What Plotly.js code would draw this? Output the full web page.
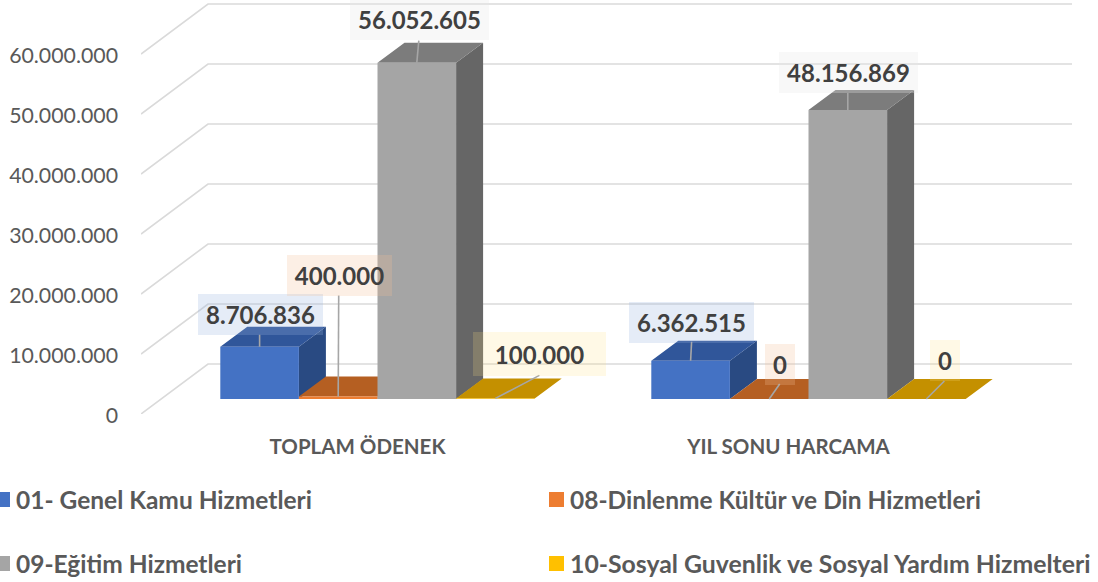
<!DOCTYPE html>
<html>
<head>
<meta charset="utf-8">
<script src="https://cdn.plot.ly/plotly-3.0.1.min.js"></script>
<style>html,body{margin:0;padding:0;background:#fff;overflow:hidden}#c{width:1098px;height:582px}</style>
</head>
<body>
<div id="c"></div>
<script>
// ---- data ----
var categories = ['TOPLAM ÖDENEK', 'YIL SONU HARCAMA'];
var seriesNames = ['01- Genel Kamu Hizmetleri', '08-Dinlenme Kültür ve Din Hizmetleri', '09-Eğitim Hizmetleri', '10-Sosyal Guvenlik ve Sosyal Yardım Hizmelteri'];
var genelKamu = [8706836, 6362515];
var dinlenme = [400000, 0];
var egitim = [56052605, 48156869];
var sosyal = [100000, 0];
var yTicks = [0, 10000000, 20000000, 30000000, 40000000, 50000000, 60000000];

// ---- style and geometry ----
var frontColors = ['#4472C4', '#ED7D31', '#A5A5A5', '#FFC000'];
var topColors = ['#30569A', '#B55F22', '#7C7C7C', '#C49000'];
var sideColors = ['#294A82', '#A35420', '#666666', '#B08200'];
var labelFills = ['rgba(150,180,225,0.25)', 'rgba(244,190,150,0.25)', 'rgba(232,232,232,0.3)', 'rgba(255,225,130,0.2)'];
var FONT = 'Lato, Carlito, Calibri, sans-serif';
var W = 1098, H = 582, L = 141, R = 1072, B = 414;
var X0 = 357.5, PX_PER_CAT = 431, UNITS_PER_PX = 60000000 / 360;
function xu(px) { return px / PX_PER_CAT; }
function yu(px) { return px * UNITS_PER_PX; }
var values = [genelKamu, dinlenme, egitim, sosyal];
var catPos = categories.map(function (c, i) { return i; });
var barShiftX = xu(20), floorShiftY = yu(15);
var barW = xu(78.6), barDX = xu(27), barDY = yu(20);
var wallDX = xu(67), wallDY = yu(50);
var xLeft = (L - X0) / PX_PER_CAT, xRight = (R - X0) / PX_PER_CAT;
var yTop = yu(B);

// label box: centre offset from the bar's top-centre, box size, leader start/end offsets
var labelDx = [[0.4, 0.4], [0.9, 10.9], [2.4, 0.4], [44.4, 18.4]];
var labelDy = [[-32, -38], [-121, -34.5], [-43, -37.5], [-44.5, -38.5]];
var labelW = [[125, 125], [105, 30], [139, 139], [133, 30]];
var labelH = [[41, 41], [41, 41], [41, 41], [44, 41]];
var leadEndDx = [[0, 1], [0.5, 10.5], [2, 0], [44, 18]];
var leadEndDy = [[-12, -19], [-101, -15], [-22, -17], [-23, -18]];

var traces = [];
// back wall and side gridlines
var gx = [], gy = [];
yTicks.forEach(function (t) {
  gx.push(xLeft, xLeft + wallDX, xRight, null);
  gy.push(t, t + wallDY, t + wallDY, null);
});
traces.push({ type: 'scatter', mode: 'lines', x: gx, y: gy, xaxis: 'x', yaxis: 'y', showlegend: false, hoverinfo: 'skip',
  line: { color: '#DADADA', width: 1.6 } });

// side and top faces (below the front faces)
function barLeft(si, ci) { return catPos[ci] + barShiftX + (si - 2) * barW; }
values.forEach(function (vals, si) {
  var sx = [], sy = [], tx = [], ty = [];
  vals.forEach(function (v, ci) {
    var x0 = barLeft(si, ci), x1 = x0 + barW, y = v + floorShiftY, b = floorShiftY;
    sx.push(x1, x1 + barDX, x1 + barDX, x1, x1, null);
    sy.push(b, b + barDY, y + barDY, y, b, null);
    tx.push(x0, x1, x1 + barDX, x0 + barDX, x0, null);
    ty.push(y, y, y + barDY, y + barDY, y, null);
  });
  traces.push({ type: 'scatter', mode: 'lines', x: sx, y: sy, fill: 'toself', fillcolor: sideColors[si], xaxis: 'x', yaxis: 'y',
    line: { width: 0, color: sideColors[si] }, showlegend: false, hoverinfo: 'skip' });
  traces.push({ type: 'scatter', mode: 'lines', x: tx, y: ty, fill: 'toself', fillcolor: topColors[si], xaxis: 'x', yaxis: 'y',
    line: { width: 0, color: topColors[si] }, showlegend: false, hoverinfo: 'skip' });
});

// front faces: real bars on an overlay axis whose zero sits on the chart floor
values.forEach(function (vals, si) {
  traces.push({ type: 'bar', name: seriesNames[si], x: catPos.map(function (p) { return p + barShiftX; }), y: vals,
    xaxis: 'x', yaxis: 'y2', showlegend: false, marker: { color: frontColors[si], line: { width: 0 } } });
});

// leader lines
var annotations = [];
function fmt(v) { return String(v).replace(/\B(?=(\d{3})+(?!\d))/g, '.'); }
values.forEach(function (vals, si) {
  var lx = [], ly = [];
  vals.forEach(function (v, ci) {
    var cx = barLeft(si, ci) + barW / 2;
    lx.push(cx, cx + xu(leadEndDx[si][ci]), null);
    ly.push(v, v + yu(-leadEndDy[si][ci]), null);
    annotations.push({ xref: 'x', yref: 'y2', x: cx, y: v, xshift: labelDx[si][ci], yshift: -labelDy[si][ci],
      xanchor: 'center', yanchor: 'middle', align: 'center', valign: 'middle', showarrow: false,
      text: '<b>' + fmt(v) + '</b>', width: labelW[si][ci], height: labelH[si][ci], borderpad: 0, borderwidth: 0,
      bgcolor: labelFills[si], font: { family: FONT, size: 24, color: '#404040' } });
  });
  traces.push({ type: 'scatter', mode: 'lines', x: lx, y: ly, xaxis: 'x', yaxis: 'y2', showlegend: false, hoverinfo: 'skip',
    line: { color: '#A6A6A6', width: 1.6 } });
});

// legend
var legendX = [-5, 549, -5, 549], legendY = [499.5, 499.5, 563.5, 563.5];
var legendSizes = [24.5, 24.5, 24.5, 24.8];
var MT = 0, plotW = R - L;
function px(x) { return (x - L) / plotW; }
function py(y) { return 1 - y / B; }
var shapes = [];
seriesNames.forEach(function (n, i) {
  shapes.push({ type: 'rect', xref: 'paper', yref: 'paper', layer: 'above', line: { width: 0 }, fillcolor: frontColors[i],
    x0: px(legendX[i]), x1: px(legendX[i] + 15), y0: py(legendY[i] - 7.5), y1: py(legendY[i] + 7.5) });
  annotations.push({ xref: 'paper', yref: 'paper', x: px(legendX[i] + 20), y: py(legendY[i]), xanchor: 'left', yanchor: 'middle',
    showarrow: false, text: '<b>' + n + '</b>', borderpad: 0, font: { family: FONT, size: legendSizes[i], color: '#595959' } });
});

var layout = {
  width: W, height: H, paper_bgcolor: '#fff', plot_bgcolor: 'rgba(0,0,0,0)', separators: ',.',
  margin: { l: L, r: W - R, t: MT, b: H - B, pad: 0 },
  showlegend: false, barmode: 'group', bargap: 1 - 4 * 78.6 / PX_PER_CAT, bargroupgap: 0,
  font: { family: FONT, color: '#595959' },
  xaxis: { range: [xLeft, xRight], tickmode: 'array', tickvals: catPos, ticktext: categories.map(function (c) { return '<b>' + c + '</b>'; }),
    showgrid: false, zeroline: false, showline: false, ticks: '', ticklabelstandoff: 18,
    tickfont: { family: FONT, size: 20.5, color: '#595959' } },
  yaxis: { range: [0, yTop], tickmode: 'array', tickvals: yTicks, tickformat: ',d', showgrid: false, zeroline: false, showline: false,
    ticks: '', ticklabelstandoff: 22, ticklabelshift: 2, tickfont: { family: FONT, size: 21.3, color: '#595959' } },
  yaxis2: { overlaying: 'y', range: [-floorShiftY, yTop - floorShiftY], visible: false, showgrid: false, zeroline: false },
  annotations: annotations, shapes: shapes
};
Plotly.newPlot('c', traces, layout, { displayModeBar: false, staticPlot: true });
</script>
</body>
</html>
